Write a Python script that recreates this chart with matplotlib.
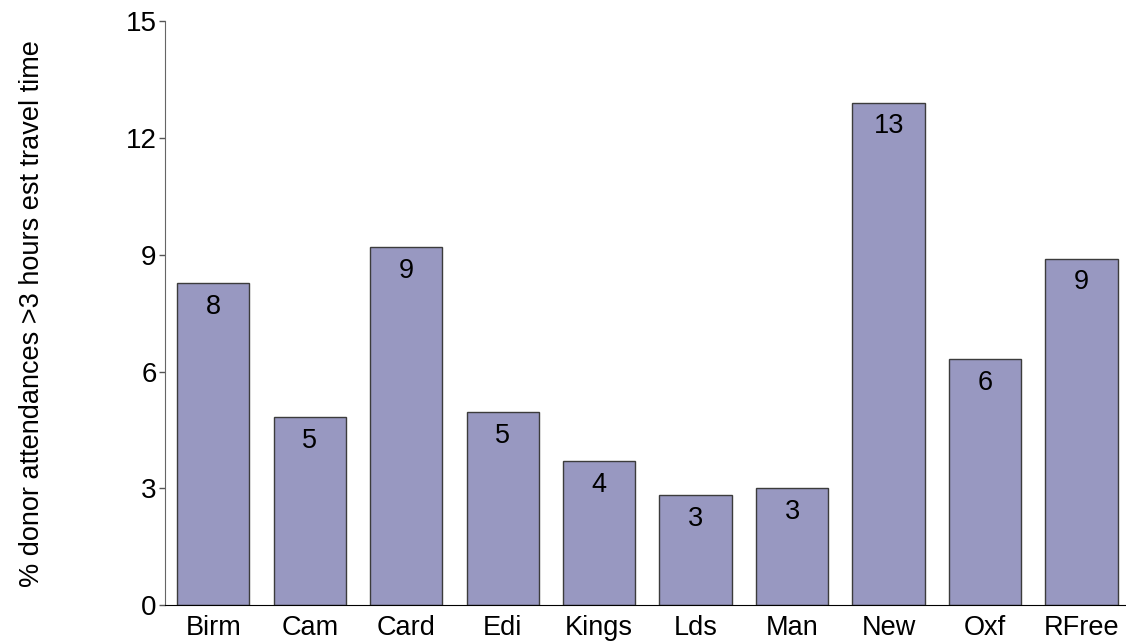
import matplotlib
matplotlib.use('Agg')
import matplotlib.pyplot as plt

centres = ['Birm', 'Cam', 'Card', 'Edi', 'Kings', 'Lds', 'Man', 'New', 'Oxf', 'RFree']
pct = [8.27, 4.83, 9.2, 4.95, 3.70, 2.83, 3.01, 12.9, 6.32, 8.90]
labels = ['8', '5', '9', '5', '4', '3', '3', '13', '6', '9']
yticks = [0, 3, 6, 9, 12, 15]

plt.rcParams['font.family'] = ['Liberation Sans', 'DejaVu Sans']

fig = plt.figure(figsize=(11.26, 6.44), dpi=100)
ax = fig.add_axes([165/1126, 38.7/644, (1126-165)/1126, 584.3/644])

x = range(len(centres))
ax.bar(x, pct, width=0.75, color='#9898c1', edgecolor='#3c3c3c', linewidth=1)

for i, v in enumerate(pct):
    ax.annotate(labels[i], (i, v), xytext=(0, -17), textcoords='offset points',
                ha='center', va='center', fontsize=19.5)

ax.set_xlim(-0.5, 9.46)
ax.set_ylim(0, 15)
ax.set_yticks(yticks)
ax.set_xticks(list(x))
ax.set_xticklabels(centres)
ax.tick_params(axis='y', length=4, width=1, pad=2, labelsize=20, color='#555555')
ax.tick_params(axis='x', length=0, pad=7, labelsize=19.5)

for s in ['top', 'right']:
    ax.spines[s].set_visible(False)
ax.spines['left'].set_color('#666666')
ax.spines['bottom'].set_color('black')

ax.set_ylabel('% donor attendances >3 hours est travel time', fontsize=19.5, labelpad=58)

fig.savefig('out.png', dpi=100)
